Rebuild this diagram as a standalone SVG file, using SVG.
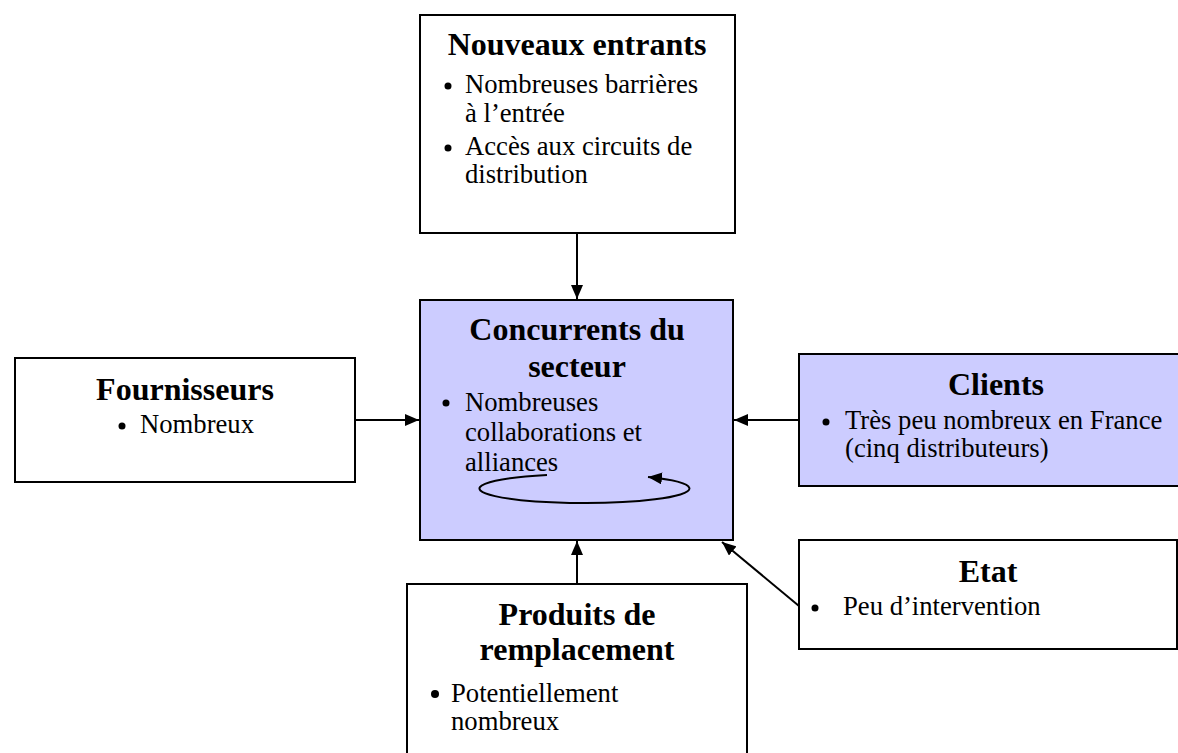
<svg xmlns="http://www.w3.org/2000/svg" width="1178" height="753" viewBox="0 0 1178 753">
<style>
.box{fill:#ffffff;stroke:#000;stroke-width:2}
.hl{fill:#ccccff;stroke:#000;stroke-width:2}
.t{font-family:"Liberation Serif","Times New Roman",serif;font-size:32px;font-weight:bold;text-anchor:middle;fill:#000}
.b{font-family:"Liberation Serif","Times New Roman",serif;font-size:26.67px;fill:#000}
.c{stroke:#000;stroke-width:2;fill:none}
</style>
<defs>
<marker id="ah" viewBox="0 0 14 12" refX="14" refY="6" markerWidth="14" markerHeight="12" markerUnits="userSpaceOnUse" orient="auto">
<path d="M0,0 L14,6 L0,12 z" fill="#000"/>
</marker>
</defs>
<rect width="1178" height="753" fill="#fff"/>

<g id="nouveaux">
<rect class="box" x="420" y="15" width="315" height="218"/>
<text class="t" x="577" y="55">Nouveaux entrants</text>
<circle cx="448" cy="86" r="3.5"/>
<text class="b" x="465" y="93">Nombreuses barrières</text>
<text class="b" x="465" y="122">à l’entrée</text>
<circle cx="448" cy="148" r="3.5"/>
<text class="b" x="465" y="155">Accès aux circuits de</text>
<text class="b" x="465" y="183">distribution</text>
</g>

<g id="concurrents">
<rect class="hl" x="420" y="300" width="313" height="240"/>
<text class="t" x="577" y="340">Concurrents du</text>
<text class="t" x="577" y="377">secteur</text>
<circle cx="446" cy="403" r="3.5"/>
<text class="b" x="465" y="411">Nombreuses</text>
<text class="b" x="465" y="441">collaborations et</text>
<text class="b" x="465" y="471">alliances</text>
</g>

<g id="fournisseurs">
<rect class="box" x="15" y="358" width="340" height="124"/>
<text class="t" x="185" y="400">Fournisseurs</text>
<circle cx="122" cy="426" r="3.5"/>
<text class="b" x="140" y="433">Nombreux</text>
</g>

<g id="clients">
<rect class="hl" x="799" y="354" width="390" height="132"/>
<text class="t" x="996" y="395">Clients</text>
<circle cx="826" cy="422" r="3.5"/>
<text class="b" x="845" y="429">Très peu nombreux en France</text>
<text class="b" x="845" y="457">(cinq distributeurs)</text>
</g>

<g id="etat">
<rect class="box" x="799" y="540" width="378" height="109"/>
<text class="t" x="988" y="582">Etat</text>
<circle cx="815" cy="608" r="3.5"/>
<text class="b" x="843" y="615">Peu d’intervention</text>
</g>

<g id="produits">
<rect class="box" x="407" y="584" width="340" height="180"/>
<text class="t" x="577" y="625">Produits de</text>
<text class="t" x="577" y="660">remplacement</text>
<circle cx="435" cy="694" r="4"/>
<text class="b" x="451" y="702">Potentiellement</text>
<text class="b" x="451" y="730">nombreux</text>
</g>

<g id="connectors">
<line class="c" x1="577" y1="233" x2="577" y2="299" marker-end="url(#ah)"/>
<line class="c" x1="355" y1="420" x2="419" y2="420" marker-end="url(#ah)"/>
<line class="c" x1="799" y1="420" x2="734" y2="420" marker-end="url(#ah)"/>
<line class="c" x1="577" y1="584" x2="577" y2="541" marker-end="url(#ah)"/>
<line class="c" x1="799" y1="606" x2="722" y2="542" marker-end="url(#ah)"/>
<path class="c" d="M547,475 A105,14.5 0 1,0 648,477" marker-end="url(#ah)"/>
</g>
</svg>
